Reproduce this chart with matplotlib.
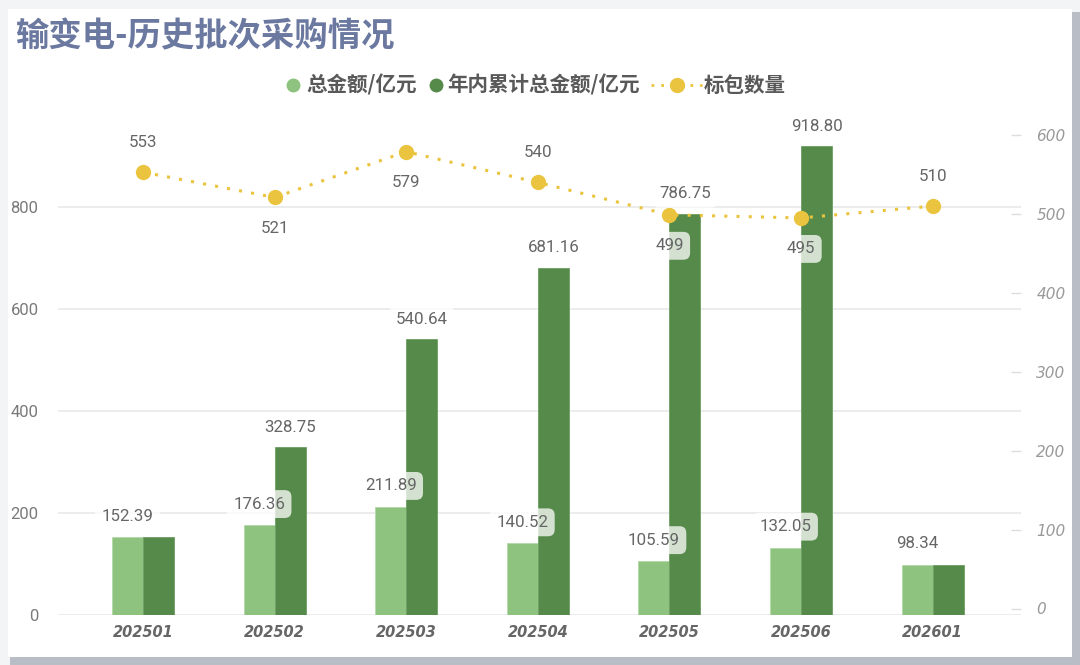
import matplotlib
matplotlib.use("Agg")
import matplotlib.pyplot as plt
from matplotlib.lines import Line2D
from matplotlib.patches import Rectangle
import numpy as np

plt.rcParams['font.family'] = ['Noto Sans CJK SC', 'DejaVu Sans']

# ---- data ----
categories = ['202501', '202502', '202503', '202504', '202505', '202506', '202601']
total_amount = [152.39, 176.36, 211.89, 140.52, 105.59, 132.05, 98.34]
cum_amount = [152.39, 328.75, 540.64, 681.16, 786.75, 918.80, 98.34]
bid_count = [553, 521, 579, 540, 499, 495, 510]
count_label_above = [True, False, False, True, False, False, True]
left_ticks = [0, 200, 400, 600, 800]
right_ticks = [0, 100, 200, 300, 400, 500, 600]

title = '输变电-历史批次采购情况'
legend_labels = ['总金额/亿元', '年内累计总金额/亿元', '标包数量']

C_LIGHT = '#8DC37E'
C_DARK = '#568A4A'
C_GOLD = '#EBC43F'
C_TITLE = '#6B78A0'

W, H = 1080, 665
fig = plt.figure(figsize=(W / 100, H / 100), dpi=100)
fig.patch.set_facecolor('#F3F4F5')


def fx(px):
    return px / W


def fy(py):
    return 1 - py / H


# card with shadow
fig.add_artist(Rectangle((10 / W, 0), 1 - 10 / W, 1 - 12 / H, transform=fig.transFigure,
                         facecolor='#B9BDC6', edgecolor='none', zorder=0))
fig.add_artist(Rectangle((8 / W, 8 / H), (1072 - 8) / W, (657 - 9) / H, transform=fig.transFigure,
                         facecolor='white', edgecolor='none', zorder=0))

ax_left, ax_right, ax_bottom, ax_top = 58, 1021, 615, 100
ax = fig.add_axes([ax_left / W, (H - ax_bottom) / H, (ax_right - ax_left) / W, (ax_bottom - ax_top) / H])
ax.set_facecolor('none')

x = np.arange(len(categories))
bw = 0.236
ax.bar(x - bw / 2, total_amount, width=bw, color=C_LIGHT, edgecolor='#B5DAAA', linewidth=0.6, zorder=2)
ax.bar(x + bw / 2, cum_amount, width=bw, color=C_DARK, edgecolor='#6E9E62', linewidth=0.6, zorder=2)

px_per_cat = 131.6
x0 = (ax_left - 143) / px_per_cat
x1 = (ax_right - 143) / px_per_cat
ax.set_xlim(x0, x1)
ax.set_ylim(0, (ax_bottom - ax_top) / 0.51)
ax.set_yticks(left_ticks)
ax.set_yticklabels([str(v) for v in left_ticks])
ax.tick_params(axis='y', length=0, pad=14, labelsize=12, labelcolor='#7A7A7A')
for t in ax.get_yticklabels():
    t.set_family(['Roboto', 'DejaVu Sans'])
ax.set_xticks(x)
ax.set_xticklabels(categories)
ax.tick_params(axis='x', length=0, pad=7)
for t in ax.get_xticklabels():
    t.set_fontsize(10.5)
    t.set_fontweight('bold')
    t.set_fontstyle('italic')
    t.set_color('#666666')
    t.set_family(['DejaVu Sans'])
ax.grid(axis='y', color='#E9E9E9', linewidth=1.2)
ax.set_axisbelow(True)
for s in ax.spines.values():
    s.set_visible(False)

ax2 = ax.twinx()
ax2.set_facecolor('none')
r_slope = 0.789
r_zero = 608.5
ax2.set_ylim((r_zero - ax_bottom) / r_slope, (r_zero - ax_top) / r_slope)
ax2.plot(x, bid_count, color=C_GOLD, linestyle=(0, (1, 3)), linewidth=2.2,
         marker='o', markersize=10, markerfacecolor=C_GOLD, markeredgecolor=C_GOLD, zorder=3)
ax2.set_yticks(right_ticks)
ax2.set_yticklabels([str(v) for v in right_ticks])
ax2.tick_params(axis='y', direction='in', length=7, width=1, color='#DDDDDD', pad=11,
                labelsize=11, labelcolor='#999999')
for t in ax2.get_yticklabels():
    t.set_fontstyle('italic')
    t.set_family(['DejaVu Sans'])
for s in ax2.spines.values():
    s.set_visible(False)

box = dict(boxstyle='round,pad=0.38,rounding_size=0.4', facecolor='white', edgecolor='none', alpha=0.75)
lab_kw = dict(textcoords='offset pixels', ha='center', va='center', fontsize=12.2,
              color='#666666', zorder=5, bbox=box, family=['Roboto', 'DejaVu Sans'])

for i in range(len(categories)):
    ax2.annotate(f'{total_amount[i]:.2f}', xy=(x[i] - bw / 2, total_amount[i]), xycoords=ax.transData,
                 xytext=(0, 21), **lab_kw)
    if cum_amount[i] != total_amount[i]:
        ax2.annotate(f'{cum_amount[i]:.2f}', xy=(x[i] + bw / 2, cum_amount[i]), xycoords=ax.transData,
                     xytext=(0, 20), **lab_kw)
    dy = 30 if count_label_above[i] else -31
    ax2.annotate(f'{bid_count[i]}', xy=(x[i], bid_count[i]), xytext=(0, dy), **lab_kw)

fig.text(fx(15), fy(37), title, fontsize=24, fontweight='bold', color=C_TITLE,
         ha='left', va='center')

# legend drawn manually (figure pixel positions)
ly = 85
leg_text_kw = dict(fontsize=14.8, fontweight='bold', color='#595959', ha='left', va='center')
fig.add_artist(Line2D([fx(293)], [fy(ly)], transform=fig.transFigure, linestyle='none',
                      marker='o', markersize=9, color=C_LIGHT))
fig.text(fx(306), fy(ly), legend_labels[0], **leg_text_kw)
fig.add_artist(Line2D([fx(436)], [fy(ly)], transform=fig.transFigure, linestyle='none',
                      marker='o', markersize=9, color=C_DARK))
fig.text(fx(447), fy(ly), legend_labels[1], **leg_text_kw)
fig.add_artist(Line2D([fx(651), fx(702)], [fy(ly), fy(ly)], transform=fig.transFigure,
                      linestyle=(0, (1, 2.5)), linewidth=2, color=C_GOLD))
fig.add_artist(Line2D([fx(677)], [fy(ly)], transform=fig.transFigure, linestyle='none',
                      marker='o', markersize=10, color=C_GOLD))
fig.text(fx(704), fy(ly), legend_labels[2], **leg_text_kw)

fig.savefig('out.png', dpi=100, facecolor=fig.get_facecolor())
